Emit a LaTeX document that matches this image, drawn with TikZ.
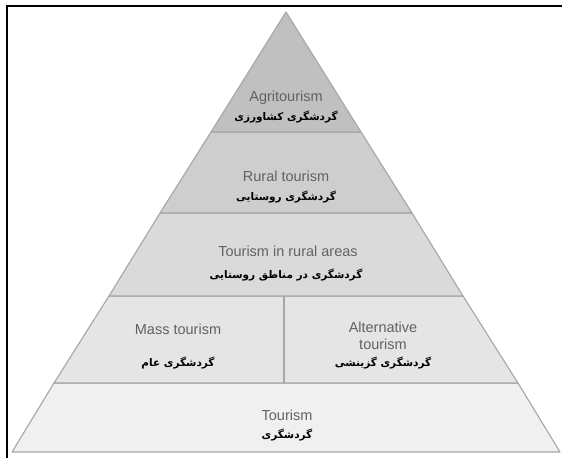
\documentclass[tikz,border=0pt]{standalone}
\usepackage{fontspec}
\setmainfont{Liberation Sans}
\newfontfamily\fa[Script=Arabic]{DejaVu Sans}
\TeXXeTstate=1
\definecolor{c1}{HTML}{C0C0C0}
\definecolor{c2}{HTML}{CECECE}
\definecolor{c3}{HTML}{DADADA}
\definecolor{c4}{HTML}{E5E5E5}
\definecolor{c5}{HTML}{F0F0F0}
\definecolor{edge}{HTML}{A6A6A6}
\definecolor{entext}{HTML}{626262}
\tikzset{
  layer/.style={draw=edge, line width=1.1pt, line join=round},
  en/.style={text=entext, font=\fontsize{14.5}{16.5}\selectfont, inner sep=0pt, align=center},
  faa/.style={text=black, font=\fa\bfseries\fontsize{10.5}{12}\selectfont, inner sep=0pt},
}
\begin{document}
\begin{tikzpicture}[x=1pt,y=-1pt]
\useasboundingbox (0,0) rectangle (562,458);
\fill[white] (0,0) rectangle (562,458);
% corner coordinates
\coordinate (apex) at (286,12);
\coordinate (l1) at (211,132);  \coordinate (r1) at (361,132);
\coordinate (l2) at (160,213);  \coordinate (r2) at (412,213);
\coordinate (l3) at (109,296);  \coordinate (r3) at (463,296);
\coordinate (l4) at (54,383);   \coordinate (r4) at (518,383);
\coordinate (l5) at (12,452);   \coordinate (r5) at (560,452);
\coordinate (dtop) at (284,296); \coordinate (dbot) at (284,383);
% layers
\filldraw[layer, fill=c5] (l4) -- (r4) -- (r5) -- (l5) -- cycle;
\filldraw[layer, fill=c4] (l3) -- (r3) -- (r4) -- (l4) -- cycle;
\filldraw[layer, fill=c3] (l2) -- (r2) -- (r3) -- (l3) -- cycle;
\filldraw[layer, fill=c2] (l1) -- (r1) -- (r2) -- (l2) -- cycle;
\filldraw[layer, fill=c1] (apex) -- (r1) -- (l1) -- cycle;
\draw[layer] (dtop) -- (dbot);
% labels
\node[en] (agri) at (286,98) {Agritourism};
\node[faa] (agrifa) at (286,117) {\beginR گردشگری کشاورزی\endR};
\node[en] (rural) at (286,176) {Rural tourism};
\node[faa] (ruralfa) at (286,197) {\beginR گردشگری روستایی\endR};
\node[en] (inrural) at (288,251) {Tourism in rural areas};
\node[faa] (inruralfa) at (286,275) {\beginR گردشگری در مناطق روستایی\endR};
\node[en] (mass) at (178,329) {Mass tourism};
\node[faa] (massfa) at (178,363) {\beginR گردشگری عام\endR};
\node[en] (alt) at (383,336) {Alternative\\tourism};
\node[faa] (altfa) at (383,363) {\beginR گردشگری گزینشی\endR};
\node[en] (tour) at (287,415) {Tourism};
\node[faa] (tourfa) at (287,435) {\beginR گردشگری\endR};
% frame
\draw[line width=2pt] (7,458) -- (7,6) -- (562,6);
\end{tikzpicture}
\end{document}
